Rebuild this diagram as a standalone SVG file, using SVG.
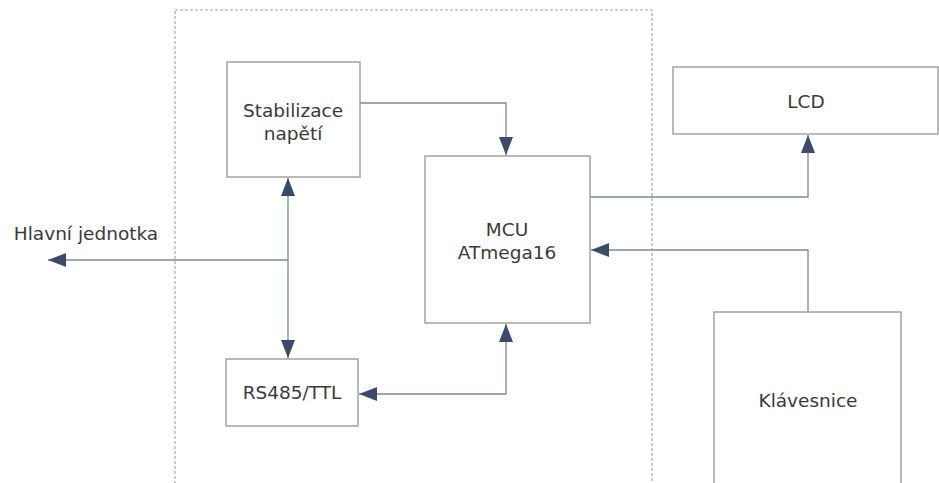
<svg xmlns="http://www.w3.org/2000/svg" width="939" height="483" viewBox="0 0 939 483">
<style>
.box{fill:#fff;stroke:#a3a3a3;stroke-width:1.5}
.frame{fill:none;stroke:#a8a8a8;stroke-width:1.2;stroke-dasharray:3 2}
.wire{fill:none;stroke:#7d8a99;stroke-width:1.3}
text{font-family:"DejaVu Sans",Verdana,sans-serif;font-size:18.5px;fill:#3a3a3a;text-anchor:middle}
</style>
<defs>
<marker id="ah" markerUnits="userSpaceOnUse" markerWidth="18" markerHeight="14" refX="18" refY="7" orient="auto-start-reverse">
<path d="M0,0 L18,7 L0,14 z" fill="#3b4b69"/>
</marker>
</defs>
<rect width="939" height="483" fill="#fff"/>
<rect class="frame" x="175" y="10" width="477" height="500"/>
<g id="connectors">
<path class="wire" d="M360,103 H506 V155" marker-end="url(#ah)"/>
<path class="wire" d="M288,178 V358" marker-start="url(#ah)" marker-end="url(#ah)"/>
<path class="wire" d="M288,260 H48" marker-end="url(#ah)"/>
<path class="wire" d="M506,324 V394 H359" marker-start="url(#ah)" marker-end="url(#ah)"/>
<path class="wire" d="M590,197 H808 V135" marker-end="url(#ah)"/>
<path class="wire" d="M808,312 V250 H591" marker-end="url(#ah)"/>
</g>
<g id="stabilizace">
<rect class="box" x="227" y="62" width="133" height="115"/>
<text x="293" y="117">Stabilizace</text>
<text x="293" y="140">napětí</text>
</g>
<g id="mcu">
<rect class="box" x="425" y="156" width="165" height="167"/>
<text x="507" y="236">MCU</text>
<text x="507" y="259">ATmega16</text>
</g>
<g id="rs485">
<rect class="box" x="226" y="359" width="132" height="67"/>
<text x="292" y="399">RS485/TTL</text>
</g>
<g id="lcd">
<rect class="box" x="673" y="67" width="265" height="67"/>
<text x="806" y="108">LCD</text>
</g>
<g id="klavesnice">
<rect class="box" x="714" y="312" width="187" height="200"/>
<text x="808" y="407">Klávesnice</text>
</g>
<g id="hlavni">
<text x="86" y="240">Hlavní jednotka</text>
</g>
</svg>
